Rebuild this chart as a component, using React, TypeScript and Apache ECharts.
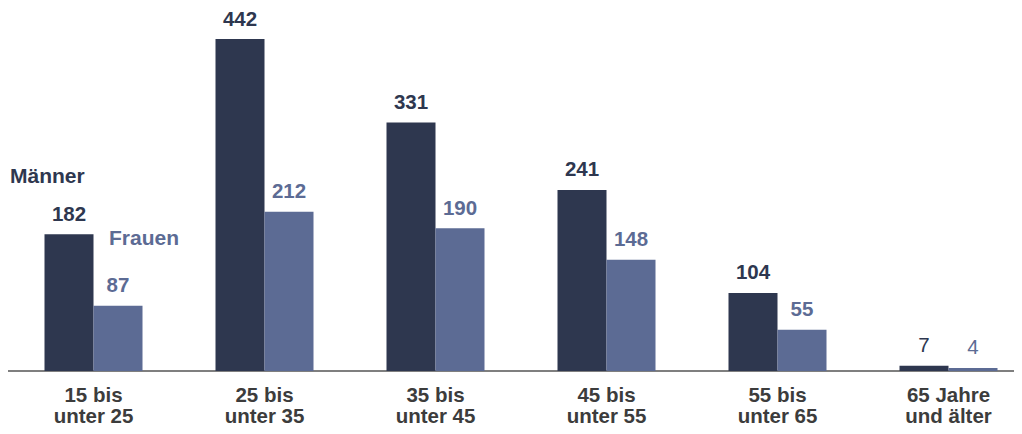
import React, { useEffect, useRef } from "react";
import * as echarts from "echarts";

const categories = ["15 bis\nunter 25", "25 bis\nunter 35", "35 bis\nunter 45", "45 bis\nunter 55", "55 bis\nunter 65", "65 Jahre\nund älter"];
const maenner = [182, 442, 331, 241, 104, 7];
const frauen = [87, 212, 190, 148, 55, 4];
const boldThreshold = 10;

const DARK = "#2E374F";
const LIGHT = "#5C6B94";
const FONT = "Liberation Sans, Arial, sans-serif";

export default function App() {
  const ref = useRef<HTMLDivElement>(null);
  useEffect(() => {
    const chart = echarts.init(ref.current!, null, { renderer: "svg" });
    const mk = (vals: number[]) =>
      vals.map((v) => ({
        value: v,
        label: { fontWeight: v < boldThreshold ? "normal" : "bold" },
      }));
    chart.setOption({
      animation: false,
      textStyle: { fontFamily: FONT },
      grid: { left: 0, right: 0, top: 31, height: 332 },
      xAxis: {
        type: "category",
        data: categories,
        axisLine: { lineStyle: { color: "#555555", width: 1.5 } },
        axisTick: { show: false },
        axisLabel: {
          color: "#3C3C3C",
          fontSize: 20.5,
          fontWeight: "bold",
          lineHeight: 21,
          margin: 13,
          interval: 0,
        },
      },
      yAxis: { type: "value", min: 0, max: 442, show: false, splitLine: { show: false } },
      series: [
        {
          type: "bar",
          data: mk(maenner),
          itemStyle: { color: DARK },
          barWidth: 49,
          barGap: "0%",
          label: { show: true, position: "top", distance: 12, lineHeight: 18, color: DARK, fontSize: 20.5 },
        },
        {
          type: "bar",
          data: mk(frauen),
          itemStyle: { color: LIGHT },
          barWidth: 49,
          barGap: "0%",
          label: { show: true, position: "top", distance: 12, lineHeight: 18, color: LIGHT, fontSize: 20.5 },
        },
      ],
      graphic: [
        {
          type: "text",
          left: 2,
          top: 157,
          style: { text: "Männer", fill: DARK, font: "bold 21px " + FONT },
        },
        {
          type: "text",
          left: 101,
          top: 219,
          style: { text: "Frauen", fill: LIGHT, font: "bold 21px " + FONT },
        },
      ],
    });
    return () => chart.dispose();
  }, []);
  return (
    <div style={{ width: 1014, height: 426, overflow: "hidden" }}>
      <div ref={ref} style={{ width: 1026, height: 426 }} />
    </div>
  );
}
